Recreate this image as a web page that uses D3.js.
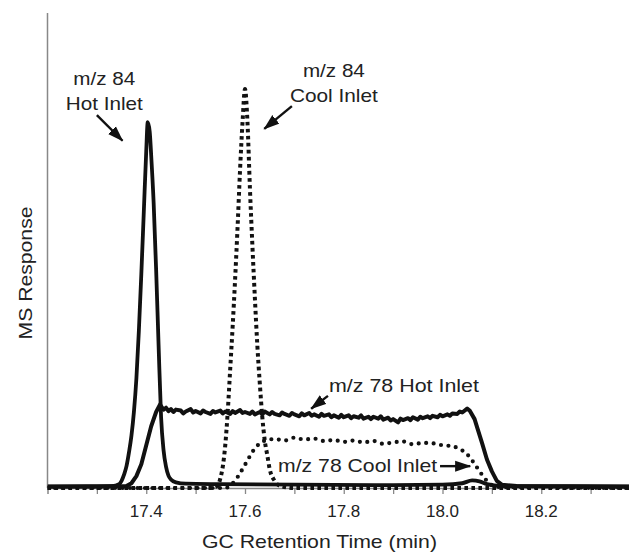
<!DOCTYPE html>
<html>
<head>
<meta charset="utf-8">
<script src="https://cdn.jsdelivr.net/npm/d3@7"></script>
<style>
  html, body { margin: 0; padding: 0; background: #fff; }
  svg { display: block; font-family: "Liberation Sans", Arial, Helvetica, sans-serif; }
</style>
</head>
<body>
<div id="chart"></div>
<script>
// --- data (time in min, response in arbitrary units 0-100) ---
var hot84 = [
  [17.20,0.3],[17.30,0.3],[17.33,0.4],[17.345,0.8],[17.35,1.5],[17.355,2.8],[17.36,4.6],
  [17.365,7.5],[17.37,11],[17.375,16],[17.38,23],[17.385,33],[17.39,45],[17.395,58],
  [17.40,71],[17.403,77],[17.407,75],[17.41,70],[17.415,60],[17.42,46],[17.425,30],[17.43,15],
  [17.435,8],[17.44,4.5],[17.445,2.6],[17.45,1.8],[17.46,1.2],[17.48,0.9],[17.55,0.8],
  [17.70,0.7],[17.90,0.6],[18.00,0.7],[18.04,1.0],[18.06,1.6],[18.075,1.4],[18.09,0.8],
  [18.12,0.4],[18.40,0.3]
];

var cool84 = [
  [17.20,0],[17.53,0],[17.545,0.5],[17.55,2],[17.555,4.5],[17.56,9],[17.565,16],[17.57,25],
  [17.575,34],[17.58,44],[17.585,55],[17.59,67],[17.595,77],[17.60,84],[17.605,77],
  [17.61,63],[17.615,51],[17.62,40],[17.625,30],[17.63,22],[17.635,15],[17.64,10],
  [17.645,7],[17.65,4],[17.66,1.5],[17.67,0.5],[17.70,0],[18.40,0]
];

var hot78 = [
  [17.20,0.3],[17.36,0.4],[17.37,1],[17.38,2.5],[17.39,5],[17.40,9],[17.41,13],[17.42,16],
  [17.428,17.6],[17.43,17.2],[17.435,16.5],[17.44,16.9],[17.445,16.2],[17.45,16.6],[17.455,16.0],
  [17.46,16.5],[17.47,16.3],[17.475,15.7],[17.48,16.1],[17.49,16.6],[17.495,15.9],[17.50,16.2],
  [17.51,15.7],[17.515,16.3],[17.52,16.0],[17.53,15.6],[17.535,16.2],[17.54,15.9],[17.55,16.3],
  [17.555,15.7],[17.56,16.1],[17.57,15.6],[17.575,16.2],[17.58,15.8],[17.59,16.4],[17.595,15.8],
  [17.60,16.0],[17.61,15.6],[17.615,16.1],[17.62,15.5],[17.63,16.0],[17.635,15.5],[17.64,16.1],
  [17.65,15.5],[17.655,16.0],[17.66,15.6],[17.67,15.3],[17.675,15.9],[17.68,15.6],[17.69,15.2],
  [17.695,15.8],[17.70,15.5],[17.71,15.1],[17.715,15.7],[17.72,15.3],[17.73,15.8],[17.735,15.2],
  [17.74,15.5],[17.75,15.0],[17.755,15.6],[17.76,15.2],[17.77,15.5],[17.775,14.9],[17.78,15.3],
  [17.79,14.8],[17.795,15.4],[17.80,14.9],[17.81,15.3],[17.815,14.7],[17.82,15.1],[17.83,14.8],
  [17.835,15.3],[17.84,14.6],[17.85,15.0],[17.855,14.5],[17.86,15.0],[17.87,14.6],[17.875,15.1],
  [17.88,14.4],[17.89,14.8],[17.895,14.2],[17.90,14.5],[17.91,13.8],[17.915,14.6],[17.92,14.3],
  [17.93,14.7],[17.935,14.3],[17.94,14.9],[17.95,14.4],[17.955,15.0],[17.96,14.7],[17.97,15.1],
  [17.975,14.7],[17.98,15.2],[17.99,14.9],[17.995,15.4],[18.00,15.1],[18.01,15.5],[18.015,15.2],
  [18.02,15.7],[18.03,15.6],[18.035,16.1],[18.04,15.9],[18.05,16.7],[18.055,16.3],
  [18.065,14.5],[18.07,12.8],[18.08,9.5],[18.09,6],[18.10,3.5],
  [18.11,1.5],[18.12,0.7],[18.15,0.4],[18.40,0.3]
];

var cool78 = [
  [17.20,0],[17.56,0],[17.575,1],[17.585,2.3],[17.595,4],[17.605,5.8],[17.615,7.6],[17.63,9.4],
  [17.645,10.1],[17.66,10.3],[17.68,10.0],[17.70,10.6],[17.72,10.2],[17.74,10.4],[17.76,9.9],
  [17.78,10.1],[17.80,9.7],[17.82,10.0],[17.84,9.6],[17.86,9.9],[17.88,9.3],[17.90,9.6],
  [17.92,9.8],[17.94,9.2],[17.96,9.5],[17.98,9.4],[18.00,9.0],[18.02,8.8],[18.035,8.2],
  [18.05,7.1],[18.06,5.8],[18.07,4.3],[18.08,2.8],[18.09,1.5],[18.10,0.6],[18.12,0.2],[18.40,0]
];

var minorTicks = [17.3,17.4,17.5,17.6,17.7,17.8,17.9,18.0,18.1,18.2,18.3];
var tickLabels = [17.4,17.6,17.8,18.0,18.2];

// annotation text: [text, t, v, anchor, width]
var labels = [
  ["m/z 84",            17.315, 84.8, "middle", 62],
  ["Hot Inlet",         17.315, 79.6, "middle", 77],
  ["m/z 84",            17.780, 86.5, "middle", 62],
  ["Cool Inlet",        17.780, 81.3, "middle", 88],
  ["m/z 78 Hot Inlet",  17.770, 20.2, "start", 150],
  ["m/z 78 Cool Inlet", 17.667, 3.4,  "start", 159]
];
// arrows: [t0, v0, t1, v1] tail -> head
var arrows = [
  [17.300, 78.5, 17.352, 73.1],
  [17.695, 80.4, 17.639, 75.6],
  [17.768, 19.4, 17.734, 16.7],
  [17.995, 4.6, 18.056, 4.6]
];

var W = 629, H = 552;
var x = d3.scaleLinear().domain([17.2, 18.4]).range([47.5, 640]);
var y = d3.scaleLinear().domain([0, 100]).range([488, 13]);
var ink = "#111";

var svg = d3.select("#chart").append("svg").attr("width", W).attr("height", H);

var defs = svg.append("defs");
defs.append("clipPath").attr("id", "plot")
  .append("rect").attr("x", x(17.2)).attr("y", 0).attr("width", W - x(17.2)).attr("height", H);
defs.append("marker").attr("id", "head")
  .attr("markerUnits", "userSpaceOnUse")
  .attr("viewBox", "0 0 16 12").attr("refX", 15).attr("refY", 6)
  .attr("markerWidth", 16).attr("markerHeight", 12).attr("orient", "auto")
  .append("path").attr("d", "M0,0.5 L16,6 L0,11.5 Z").attr("fill", ink);

// axes
svg.append("line")
  .attr("x1", x(17.2)).attr("x2", x(17.2)).attr("y1", y(100)).attr("y2", y(0))
  .attr("stroke", "#888").attr("stroke-width", 1.5);

var xAxis = svg.append("g").attr("transform", "translate(0," + y(0) + ")")
  .call(d3.axisBottom(x).tickValues(minorTicks).tickSize(6).tickFormat(""));
xAxis.select(".domain").attr("stroke", "#888").attr("stroke-width", 1.5);
xAxis.selectAll(".tick line").attr("stroke", "#888").attr("stroke-width", 1.3);

svg.append("g").selectAll("text").data(tickLabels).enter().append("text")
  .attr("x", function (d) { return x(d); })
  .attr("y", 517)
  .attr("text-anchor", "middle")
  .attr("font-size", "17px").attr("fill", "#222")
  .text(function (d) { return d.toFixed(1); });

svg.append("text")
  .attr("x", 319.5).attr("y", 548)
  .attr("text-anchor", "middle").attr("font-size", "19px").attr("fill", "#222")
  .attr("textLength", 235).attr("lengthAdjust", "spacingAndGlyphs")
  .text("GC Retention Time (min)");

svg.append("text")
  .attr("transform", "translate(32,273) rotate(-90)")
  .attr("text-anchor", "middle").attr("font-size", "19px").attr("fill", "#222")
  .attr("textLength", 133).attr("lengthAdjust", "spacingAndGlyphs")
  .text("MS Response");

// traces
var smooth = d3.line()
  .x(function (d) { return x(d[0]); })
  .y(function (d) { return y(d[1]); })
  .curve(d3.curveMonotoneX);
var jagged = d3.line()
  .x(function (d) { return x(d[0]); })
  .y(function (d) { return y(d[1]); });

var traces = svg.append("g").attr("clip-path", "url(#plot)");

traces.append("path").datum(cool78).attr("d", smooth)
  .attr("fill", "none").attr("stroke", ink).attr("stroke-width", 4.2)
  .attr("stroke-linecap", "round").attr("stroke-dasharray", "0,7.5");

traces.append("path").datum(cool84).attr("d", smooth)
  .attr("fill", "none").attr("stroke", ink).attr("stroke-width", 4)
  .attr("stroke-dasharray", "3.6,3.4");

traces.append("path").datum(hot78).attr("d", jagged)
  .attr("fill", "none").attr("stroke", ink).attr("stroke-width", 4)
  .attr("stroke-linejoin", "round");

traces.append("path").datum(hot84).attr("d", smooth)
  .attr("fill", "none").attr("stroke", ink).attr("stroke-width", 3.8)
  .attr("stroke-linejoin", "round");

// annotations
svg.append("g").selectAll("text").data(labels).enter().append("text")
  .attr("x", function (d) { return x(d[1]); })
  .attr("y", function (d) { return y(d[2]); })
  .attr("text-anchor", function (d) { return d[3]; })
  .attr("font-size", "19px").attr("fill", "#222")
  .attr("textLength", function (d) { return d[4]; })
  .attr("lengthAdjust", "spacingAndGlyphs")
  .text(function (d) { return d[0]; });

svg.append("g").selectAll("line").data(arrows).enter().append("line")
  .attr("x1", function (d) { return x(d[0]); })
  .attr("y1", function (d) { return y(d[1]); })
  .attr("x2", function (d) { return x(d[2]); })
  .attr("y2", function (d) { return y(d[3]); })
  .attr("stroke", ink).attr("stroke-width", 2.4)
  .attr("marker-end", "url(#head)");
</script>
</body>
</html>
